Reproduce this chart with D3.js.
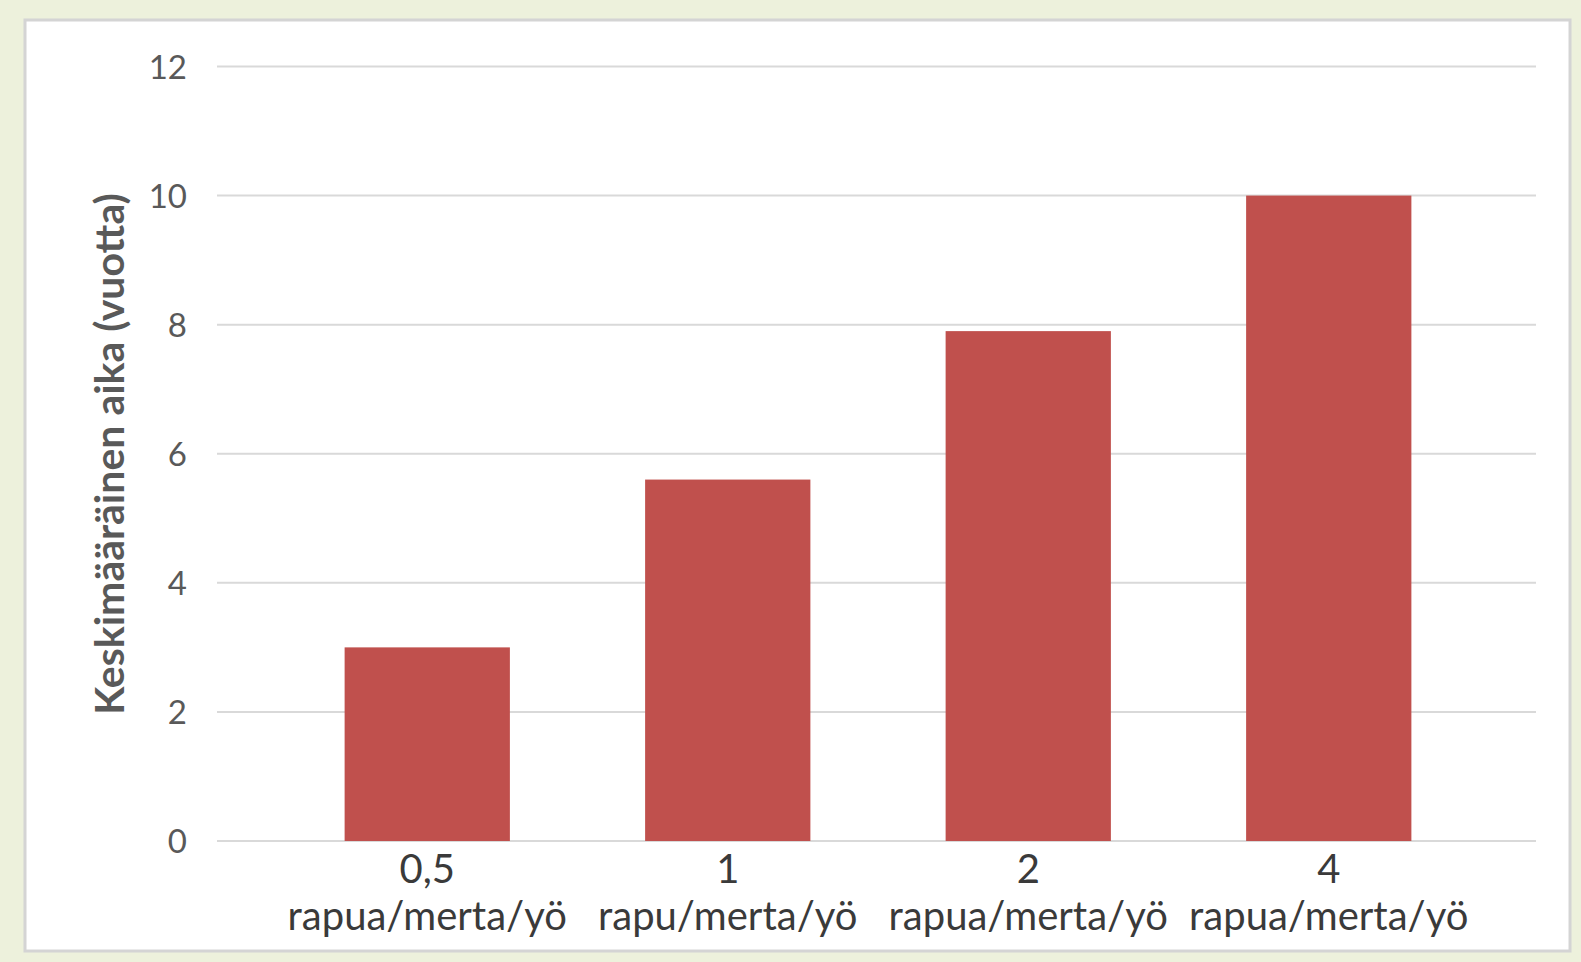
<!DOCTYPE html>
<meta charset="utf-8">
<html lang="fi">
<head>
    <title>Keskimääräinen aika</title>
    <script src="https://cdn.jsdelivr.net/npm/d3@7"></script>
    <style>
        body { margin: 0; background: #edf1dc; }
        text { font-family: Lato, "Open Sans", sans-serif; }
        .grid line { stroke: #d9d9d9; stroke-width: 2px; }
        .tick-label { font-size: 33px; fill: #595959; }
        .cat-label { font-size: 40px; fill: #3a3a3a; }
        .title { font-size: 41px; font-weight: bold; fill: #595959; }
    </style>
</head>
<body>
<script>
    // data
    var categories = ["0,5", "1", "2", "4"];
    var units = ["rapua/merta/yö", "rapu/merta/yö", "rapua/merta/yö", "rapua/merta/yö"];
    var values = [3.0, 5.6, 7.9, 10.0];
    var yTicks = [0, 2, 4, 6, 8, 10, 12];

    var W = 1581, H = 962;
    var svg = d3.select("body").append("svg").attr("width", W).attr("height", H);

    // chart frame
    svg.append("rect").attr("x", 25).attr("y", 20).attr("width", 1545).attr("height", 931)
        .attr("fill", "#fff").attr("stroke", "#d4d4d4").attr("stroke-width", 3);

    var y = d3.scaleLinear().domain([0, 12]).range([841, 66.5]);
    var x = d3.scaleBand().domain(categories).range([277, 1479]).paddingInner(0.45).paddingOuter(0.225);

    // gridlines
    svg.append("g").attr("class", "grid")
        .selectAll("line").data(yTicks).enter().append("line")
        .attr("x1", 217).attr("x2", 1536)
        .attr("y1", d => y(d)).attr("y2", d => y(d));

    svg.append("g").selectAll("text").data(yTicks).enter().append("text")
        .attr("class", "tick-label")
        .attr("x", 187).attr("y", d => y(d) + 12)
        .attr("text-anchor", "end")
        .text(d => d);

    // bars
    svg.append("g").selectAll("rect").data(values).enter().append("rect")
        .attr("x", (d, i) => x(categories[i]))
        .attr("width", x.bandwidth())
        .attr("y", d => y(d))
        .attr("height", d => y(0) - y(d))
        .attr("fill", "#c0504d");

    // category labels
    var cat = svg.append("g").selectAll("text").data(categories).enter().append("text")
        .attr("class", "cat-label")
        .attr("text-anchor", "middle")
        .attr("x", d => x(d) + x.bandwidth() / 2);
    cat.append("tspan").attr("y", 883).text(d => d);
    cat.append("tspan").attr("y", 930).attr("x", d => x(d) + x.bandwidth() / 2)
        .text((d, i) => units[i]);

    svg.append("text").attr("class", "title")
        .attr("transform", "translate(124,454) rotate(-90)")
        .attr("text-anchor", "middle")
        .text("Keskimääräinen aika (vuotta)");
</script>
</body>
</html>
